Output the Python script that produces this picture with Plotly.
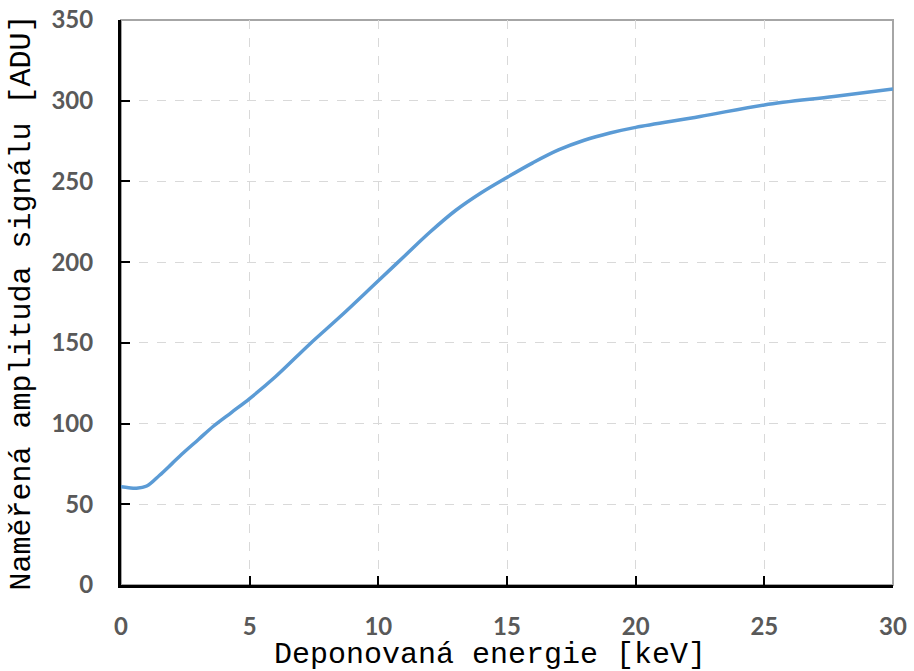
import plotly.graph_objects as go

energy_kev = [0, 0.3, 0.6, 1.0, 1.5, 2.0, 2.5, 3.0, 3.6, 4.3, 5.0, 6.0, 7.35, 8.5,
              10, 11, 12, 13, 14, 15, 16, 17, 18, 19, 20, 22.5, 25, 27.7, 30]
amplitude_adu = [60.8, 60.2, 59.9, 61.3, 68, 75.5, 83, 90, 98.5, 107, 115.5, 129, 149.5, 166,
                 188.5, 203.5, 218.5, 232, 243, 252.5, 261.5, 269.5, 275.5, 280, 283.5,
                 290.2, 297.4, 302.6, 307.2]
x_ticks = [0, 5, 10, 15, 20, 25, 30]
y_ticks = [0, 50, 100, 150, 200, 250, 300, 350]
x_title = "Deponovaná energie [keV]"
y_title = "Naměřená amplituda signálu [ADU]"

fig = go.Figure()
fig.add_trace(go.Scatter(
    x=energy_kev, y=amplitude_adu, mode="lines",
    line=dict(color="#5B9BD5", width=3.5, shape="spline", smoothing=1.0),
    showlegend=False, hoverinfo="skip"))

tick_font = dict(family="Lato", size=24, color="#595959", weight="bold")
title_font = dict(family="Liberation Mono", size=30, color="#000000")

fig.update_layout(
    width=914, height=671,
    margin=dict(l=121, r=21, t=20, b=86, autoexpand=False),
    paper_bgcolor="white", plot_bgcolor="white",
    shapes=[dict(type="rect", xref="paper", yref="paper", x0=0, x1=1, y0=0, y1=1,
                 line=dict(color="#A6A6A6", width=2), layer="below")],
    annotations=[dict(text=x_title, xref="paper", yref="paper", x=0.478, y=-0.124,
                      xanchor="center", yanchor="middle", showarrow=False, font=title_font)],
)
fig.update_xaxes(
    range=[0, 30], tickvals=x_ticks, ticktext=[str(v) for v in x_ticks],
    showline=True, linecolor="black", linewidth=3,
    ticks="inside", ticklen=9, tickwidth=2, tickcolor="black",
    showgrid=True, gridcolor="#D9D9D9", griddash="dash", gridwidth=1,
    zeroline=False, tickfont=tick_font, ticklabelstandoff=18, automargin=False,
)
fig.update_yaxes(
    range=[0, 350], tickvals=y_ticks, ticktext=[str(v) for v in y_ticks],
    showline=True, linecolor="black", linewidth=3,
    ticks="inside", ticklen=9, tickwidth=2, tickcolor="black",
    showgrid=True, gridcolor="#D9D9D9", griddash="dash", gridwidth=1,
    zeroline=False, tickfont=tick_font, ticklabelstandoff=20, automargin=False,
    title=dict(text=y_title, font=title_font, standoff=12),
)

fig.write_html("out.html")
